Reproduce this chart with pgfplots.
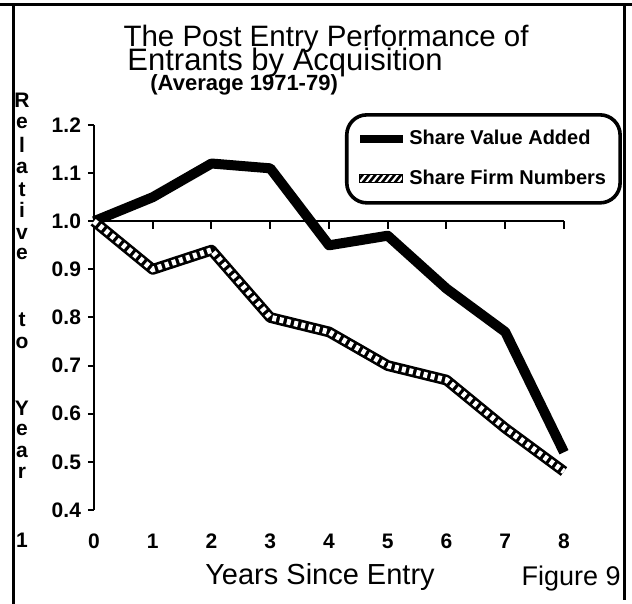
\documentclass[border=0pt]{standalone}
\usepackage{fontspec}
\setmainfont{Liberation Sans}
\usepackage{pgfplots}
\pgfplotsset{compat=1.18}

% short downward tick for the line at 1.0
\pgfdeclareplotmark{dtick}{%
  \pgfpathmoveto{\pgfpointorigin}%
  \pgfpathlineto{\pgfpoint{0pt}{-4pt}}%
  \pgfusepathqstroke}

\begin{document}
\begin{tikzpicture}
\path[use as bounding box] (-47pt,-47pt) rectangle (269pt,255pt);
% page frame
\draw[line width=1.5pt] (-40pt,-47pt) -- (-40pt,252.5pt);
\draw[line width=1.5pt] (-47pt,252.5pt) -- (269pt,252.5pt);
\draw[line width=1.5pt] (265pt,252.5pt) -- (265pt,-45pt);

\begin{axis}[
  at={(0pt,0pt)}, anchor=south west,
  scale only axis, width=235pt, height=192.5pt,
  xmin=0, xmax=8, ymin=0.4, ymax=1.2,
  clip=false,
  axis x line*=bottom, axis y line*=left,
  x axis line style={draw=none},
  y axis line style={line width=1.3pt},
  xtick={0,1,2,3,4,5,6,7,8},
  ytick={0.4,0.5,0.6,0.7,0.8,0.9,1.0,1.1,1.2},
  major x tick style={draw=none},
  major y tick style={line width=1pt, black},
  tick align=outside, major tick length=3pt,
  tick label style={font=\fontsize{10.5}{12}\selectfont\bfseries},
  /pgf/number format/assume math mode=true,
  yticklabel style={/pgf/number format/.cd, fixed, fixed zerofill, precision=1},
  xticklabel style={anchor=base, yshift=-16.5pt},
  legend style={at={(axis description cs:0.534,1.031)}, anchor=north west,
    draw=black, line width=1.8pt, rounded corners=10pt, fill=white,
    inner xsep=5pt, inner ysep=5.75pt, row sep=7pt,
    font=\fontsize{10}{12}\selectfont\bfseries},
  legend cell align=left,
]
\addplot[black, line width=1.2pt, forget plot] coordinates {(0,1) (8,1)};
\addplot[black, only marks, mark=dtick, mark options={line width=1pt}, forget plot]
  coordinates {(1,1) (2,1) (3,1) (4,1) (5,1) (6,1) (7,1) (8,1)};

\addplot[black, line width=5pt, line join=round,
  legend image code/.code={\path[fill=black, draw=none, sharp corners] (0pt,-2pt) rectangle (21.5pt,2pt);}]
  coordinates {(0,1.00) (1,1.05) (2,1.12) (3,1.11) (4,0.95) (5,0.97) (6,0.86) (7,0.77) (8,0.52)};
\addlegendentry{Share Value Added}

% firm numbers: black outline, white hatching drawn on top
\addplot[black, line width=5.4pt, line join=round, forget plot]
  coordinates {(0,1.00) (1,0.90) (2,0.94) (3,0.80) (4,0.77) (5,0.70) (6,0.67) (7,0.57) (8,0.48)};
\addplot[white, line width=2.8pt, dash pattern=on 2pt off 1.7pt,
  legend image code/.code={%
    \begin{scope}[sharp corners, solid]
    \clip (0pt,-2pt) rectangle (21.5pt,2pt);
    \foreach \i in {0,...,7} {\draw[black, line width=1.3pt] ({\i*3.2pt-2pt},-2.5pt) -- ({\i*3.2pt+2pt},2.5pt);}
    \end{scope}
    \draw[black, solid, line width=0.8pt, sharp corners] (0pt,-2pt) rectangle (21.5pt,2pt);}]
  coordinates {(0,1.00) (1,0.90) (2,0.94) (3,0.80) (4,0.77) (5,0.70) (6,0.67) (7,0.57) (8,0.48)};
\addlegendentry{Share Firm Numbers}
\end{axis}

% titles
\node[anchor=base, font=\fontsize{14.75}{17}\selectfont] at (116pt,231.5pt) {The Post Entry Performance of};
\node[anchor=base west, inner sep=0pt, font=\fontsize{15.5}{17}\selectfont] at (16.5pt,219.5pt) {Entrants by Acquisition};
\node[anchor=base west, inner sep=0pt, font=\fontsize{11}{13}\selectfont\bfseries] at (28pt,209.5pt) {(Average 1971-79)};

% vertical y label
\foreach \c/\y in {R/205, e/193.6, l/182.5, a/171.25, t/160, i/150, v/138.25, e/128,
                   t/95, o/83.5, Y/51, e/40, a/29, r/18.5, 1/-15}
  \node[font=\fontsize{10.5}{12}\selectfont\bfseries, inner sep=0pt] at (-36pt,\y pt) {\c};

\node[anchor=base, font=\fontsize{14.5}{16}\selectfont] at (113pt,-37.5pt) {Years Since Entry};
\node[anchor=base east, inner sep=0pt, font=\fontsize{13.5}{15}\selectfont] at (263.5pt,-38pt) {Figure 9};
\end{tikzpicture}
\end{document}
